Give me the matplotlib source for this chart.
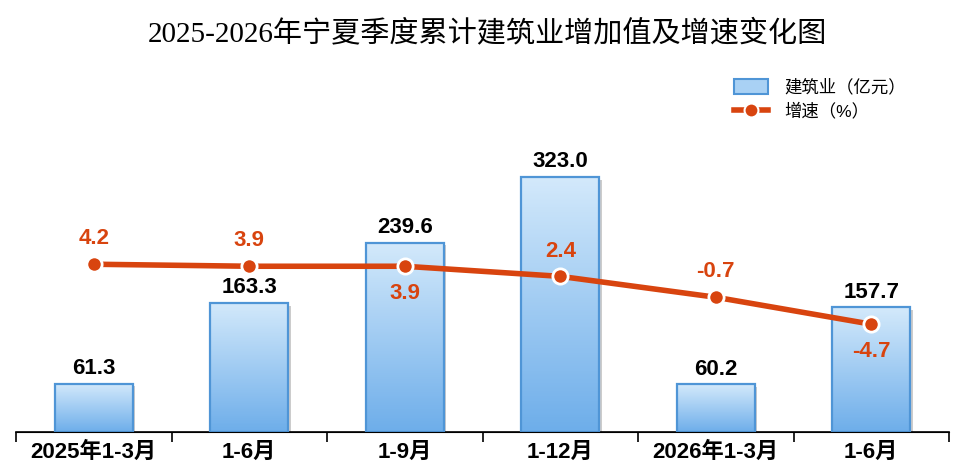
import numpy as np
import matplotlib
matplotlib.use("Agg")
import matplotlib.pyplot as plt
from matplotlib.colors import LinearSegmentedColormap
from matplotlib.patches import Patch
from matplotlib.lines import Line2D
import matplotlib.patheffects as pe

plt.rcParams['font.family'] = ['Liberation Sans', 'Noto Sans CJK SC']

# data
categories = ['2025年1-3月', '1-6月', '1-9月', '1-12月', '2026年1-3月', '1-6月']
output_value = [61.3, 163.3, 239.6, 323.0, 60.2, 157.7]
growth_rate = [4.2, 3.9, 3.9, 2.4, -0.7, -4.7]
rate_label_below = [False, False, True, False, False, True]

bar_edge = '#4f95d6'
line_color = '#d8440f'
grad = LinearSegmentedColormap.from_list('bar_grad', ['#6eaeea', '#d3e9fb'])

fig = plt.figure(figsize=(9.64, 4.75), dpi=100)
ax = fig.add_axes([16 / 964, 43 / 475, 933 / 964, 316 / 475])
ax2 = ax.twinx()

x = np.arange(len(categories))
width = 0.5

bars = ax.bar(x, output_value, width=width, facecolor='none', edgecolor=bar_edge,
              linewidth=1.6, zorder=3)
shadow = [pe.SimplePatchShadow(offset=(2, -2), shadow_rgbFace='#9a9a9a', alpha=0.5), pe.Normal()]
for rect, val in zip(bars, output_value):
    x0 = rect.get_x()
    ax.bar(rect.get_x() + width / 2, val, width=width, color='white', zorder=1,
           path_effects=shadow)
    img = ax.imshow(np.linspace(0, 1, 100).reshape(-1, 1), cmap=grad, origin='lower',
                    extent=[x0, x0 + width, 0, val], aspect='auto', zorder=2)
    img.set_clip_path(rect)
    ax.text(rect.get_x() + width / 2, val + 6, f'{val:.1f}', ha='center', va='bottom',
            fontsize=16, fontweight='bold', color='black', zorder=5)

ax.set_xlim(-0.5, len(categories) - 0.5)
ax.set_ylim(0, 400)

ax2.plot(x, growth_rate, color=line_color, linewidth=4, marker='o', markersize=11,
         markerfacecolor=line_color, markeredgecolor='white', markeredgewidth=2, zorder=6)
for xi, r, below in zip(x, growth_rate, rate_label_below):
    if below:
        ax2.text(xi, r - 2.5, f'{r:.1f}', ha='center', va='top', fontsize=16,
                 fontweight='bold', color=line_color)
    else:
        ax2.text(xi, r + 2.2, f'{r:.1f}', ha='center', va='bottom', fontsize=16,
                 fontweight='bold', color=line_color)
ax2.set_ylim(-20.7, 26.2)

for a in (ax, ax2):
    for s in ('top', 'left', 'right'):
        a.spines[s].set_visible(False)
    a.set_yticks([])
ax.spines['bottom'].set_linewidth(1.2)

ax.set_xticks(x)
ax.set_xticklabels(categories, fontsize=16, fontweight='bold')
ax.tick_params(axis='x', which='major', length=0, pad=7)
ax.set_xticks(np.arange(len(categories) + 1) - 0.5, minor=True)
ax.tick_params(axis='x', which='minor', length=7, width=1.2, direction='out')

fig.text(0.506, 0.93, '2025-2026年宁夏季度累计建筑业增加值及增速变化图', ha='center', va='center',
         fontsize=21, family=['Liberation Serif', 'Noto Sans CJK SC'])

handles = [Patch(facecolor='#a9d1f4', edgecolor=bar_edge, linewidth=1.5),
           Line2D([0], [0], color=line_color, linewidth=4, marker='o', markersize=10,
                  markerfacecolor=line_color, markeredgecolor='white', markeredgewidth=1.5)]
fig.legend(handles, ['建筑业（亿元）', '增速（%）'], loc='upper left',
           bbox_to_anchor=(718 / 964, 1 - 63 / 475), frameon=False, fontsize=12.5,
           handlelength=2.0, handleheight=0.9, labelspacing=0.4, handletextpad=0.9)

fig.savefig('out.png', dpi=100)
